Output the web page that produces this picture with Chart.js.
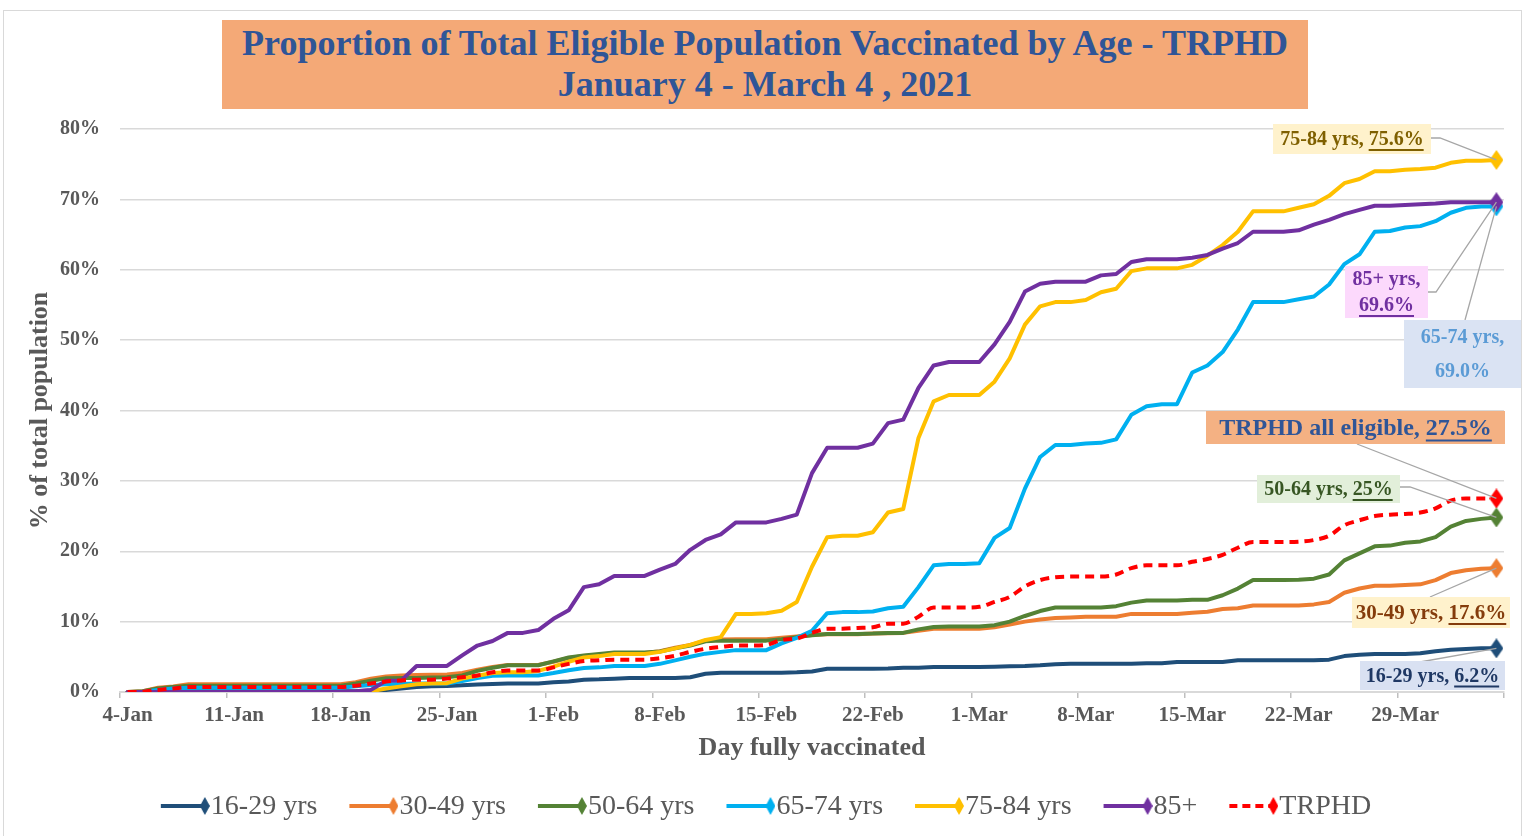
<!DOCTYPE html>
<html>
<head>
<meta charset="utf-8">
<script src="https://cdn.jsdelivr.net/npm/chart.js@4.4.1/dist/chart.umd.min.js"></script>
<style>
  html, body { margin: 0; padding: 0; background: #fff; }
  #wrap { position: relative; width: 1530px; height: 836px; overflow: hidden; }
  #frame { position: absolute; left: 3px; top: 10px; width: 1519px; height: 850px; border: 1px solid #d9d9d9; box-sizing: border-box; }
  #title {
    position: absolute; left: 222px; top: 20px; width: 1086px; height: 89px;
    background: #f4a977; color: #2f5597; text-align: center;
    font: bold 36px "Liberation Serif", "Times New Roman", serif; line-height: 41px;
    padding-top: 3px; box-sizing: border-box; z-index: 2;
  }
  canvas { position: absolute; left: 0; top: 0; z-index: 1; }
</style>
</head>
<body>
<div id="wrap">
  <div id="frame"></div>
  <canvas id="chart" width="1530" height="836"></canvas>
  <div id="title">Proportion of Total Eligible Population Vaccinated by Age - TRPHD<br>January 4 - March 4 , 2021</div>
</div>
<script>
// one label per day, 4-Jan .. 4-Apr
const monthNames = ["Jan", "Feb", "Mar", "Apr"];
const days = [];
for (let i = 0; i < 91; i++) {
  const d = new Date(2021, 0, 4 + i);
  days.push(d.getDate() + "-" + monthNames[d.getMonth()]);
}

const seriesNames = ["16-29 yrs", "30-49 yrs", "50-64 yrs", "65-74 yrs", "75-84 yrs", "85+", "TRPHD"];

// % fully vaccinated
const age16to29 = [0, 0, 0.1, 0.1, 0.1, 0.1, 0.1, 0.1, 0.1, 0.1,
  0.1, 0.1, 0.1, 0.1, 0.1, 0.1, 0.2, 0.3, 0.5, 0.7,
  0.8, 0.85, 0.95, 1.05, 1.15, 1.2, 1.2, 1.2, 1.4, 1.5,
  1.75, 1.8, 1.9, 2.0, 2.0, 2.0, 2.0, 2.1, 2.6, 2.75,
  2.75, 2.75, 2.75, 2.75, 2.8, 2.9, 3.3, 3.3, 3.3, 3.3,
  3.35, 3.45, 3.45, 3.55, 3.55, 3.55, 3.55, 3.6, 3.65, 3.7,
  3.8, 3.95, 4.0, 4.0, 4.0, 4.0, 4.0, 4.1, 4.1, 4.25,
  4.25, 4.25, 4.25, 4.5, 4.5, 4.5, 4.5, 4.5, 4.5, 4.6,
  5.1, 5.3, 5.4, 5.4, 5.4, 5.5, 5.8, 6.0, 6.1, 6.2,
  6.2];
const age30to49 = [0, 0.1, 0.6, 0.8, 1.1, 1.1, 1.1, 1.1, 1.1, 1.1,
  1.1, 1.1, 1.1, 1.1, 1.1, 1.4, 1.9, 2.2, 2.35, 2.4,
  2.45, 2.5, 2.7, 3.15, 3.55, 3.85, 3.85, 3.85, 4.3, 4.85,
  5.1, 5.3, 5.55, 5.55, 5.55, 5.8, 6.3, 6.7, 7.3, 7.45,
  7.5, 7.5, 7.5, 7.7, 7.9, 8.1, 8.2, 8.2, 8.2, 8.3,
  8.35, 8.4, 8.7, 9.0, 9.0, 9.0, 9.0, 9.2, 9.6, 10.0,
  10.3, 10.5, 10.6, 10.7, 10.7, 10.7, 11.1, 11.1, 11.1, 11.1,
  11.25, 11.4, 11.8, 11.9, 12.3, 12.3, 12.3, 12.3, 12.45, 12.8,
  14.1, 14.7, 15.1, 15.1, 15.2, 15.3, 15.9, 16.9, 17.3, 17.5,
  17.6];
const age50to64 = [0, 0.1, 0.5, 0.7, 0.9, 0.9, 0.9, 0.9, 0.9, 0.9,
  0.9, 0.9, 0.9, 0.9, 0.9, 1.2, 1.6, 1.95, 2.0, 2.0,
  2.05, 2.1, 2.35, 3.0, 3.45, 3.8, 3.8, 3.8, 4.35, 4.9,
  5.2, 5.4, 5.6, 5.6, 5.6, 5.75, 6.2, 6.6, 7.2, 7.3,
  7.3, 7.3, 7.3, 7.5, 7.8, 8.05, 8.25, 8.25, 8.25, 8.3,
  8.4, 8.4, 8.9, 9.25, 9.3, 9.3, 9.3, 9.5, 10.0, 10.8,
  11.5, 12.0, 12.0, 12.0, 12.0, 12.2, 12.7, 13.0, 13.0, 13.0,
  13.1, 13.1, 13.75, 14.7, 15.9, 15.9, 15.9, 15.95, 16.1, 16.7,
  18.7, 19.7, 20.7, 20.8, 21.2, 21.4, 22.0, 23.5, 24.3, 24.6,
  24.8];
const age65to74 = [0, 0.05, 0.3, 0.5, 0.6, 0.6, 0.6, 0.6, 0.6, 0.6,
  0.6, 0.6, 0.6, 0.6, 0.6, 0.8, 1.0, 1.1, 1.15, 1.2,
  1.2, 1.2, 1.55, 2.0, 2.3, 2.35, 2.35, 2.35, 2.7, 3.1,
  3.4, 3.5, 3.7, 3.7, 3.7, 4.0, 4.5, 5.0, 5.45, 5.7,
  5.95, 5.95, 5.95, 6.9, 7.7, 8.7, 11.2, 11.35, 11.35, 11.45,
  11.9, 12.1, 14.9, 18.0, 18.2, 18.2, 18.3, 21.9, 23.3, 28.9,
  33.4, 35.1, 35.1, 35.3, 35.4, 35.9, 39.4, 40.6, 40.9, 40.9,
  45.4, 46.4, 48.3, 51.5, 55.4, 55.4, 55.4, 55.8, 56.2, 57.9,
  60.8, 62.2, 65.4, 65.5, 66.0, 66.2, 66.9, 68.1, 68.8, 69.0,
  69.0];
const age75to84 = [0, 0, 0, 0, 0, 0, 0, 0, 0, 0,
  0, 0, 0, 0, 0, 0, 0.1, 0.5, 0.8, 1.1,
  1.2, 1.25, 1.9, 2.3, 2.7, 2.8, 2.8, 3.0, 3.6, 4.3,
  4.9, 5.1, 5.4, 5.4, 5.4, 5.7, 6.2, 6.7, 7.4, 7.8,
  11.1, 11.1, 11.2, 11.55, 12.8, 17.8, 22.0, 22.2, 22.2, 22.7,
  25.5, 26.0, 36.1, 41.3, 42.2, 42.2, 42.2, 44.1, 47.4, 52.2,
  54.8, 55.4, 55.4, 55.7, 56.8, 57.3, 59.8, 60.2, 60.2, 60.2,
  60.7, 62.0, 63.5, 65.4, 68.3, 68.3, 68.3, 68.8, 69.3, 70.5,
  72.3, 72.9, 74.0, 74.0, 74.2, 74.3, 74.5, 75.2, 75.5, 75.5,
  75.6];
const age85plus = [0, 0, 0, 0, 0, 0, 0, 0, 0, 0,
  0, 0, 0, 0, 0.05, 0.1, 0.3, 1.6, 1.65, 3.7,
  3.7, 3.7, 5.2, 6.6, 7.25, 8.4, 8.4, 8.8, 10.4, 11.6,
  14.9, 15.3, 16.5, 16.5, 16.5, 17.4, 18.2, 20.2, 21.6, 22.4,
  24.1, 24.1, 24.1, 24.6, 25.2, 31.1, 34.7, 34.7, 34.7, 35.3,
  38.2, 38.7, 43.2, 46.4, 46.9, 46.9, 46.9, 49.4, 52.6, 56.9,
  58.0, 58.3, 58.3, 58.3, 59.2, 59.4, 61.1, 61.5, 61.5, 61.5,
  61.7, 62.1, 63.0, 63.8, 65.4, 65.4, 65.4, 65.6, 66.4, 67.1,
  67.9, 68.5, 69.1, 69.1, 69.2, 69.3, 69.4, 69.6, 69.6, 69.6,
  69.6];
const trphdAll = [0, 0.05, 0.3, 0.5, 0.7, 0.7, 0.7, 0.7, 0.7, 0.7,
  0.7, 0.7, 0.7, 0.7, 0.7, 0.9, 1.2, 1.5, 1.65, 1.75,
  1.75, 1.9, 2.1, 2.35, 2.8, 3.05, 3.05, 3.05, 3.5, 4.0,
  4.4, 4.5, 4.6, 4.6, 4.6, 4.8, 5.15, 5.7, 6.15, 6.4,
  6.6, 6.6, 6.7, 7.4, 7.6, 8.4, 9.0, 9.0, 9.1, 9.2,
  9.7, 9.7, 10.7, 12.0, 12.0, 12.0, 12.1, 12.8, 13.5, 15.0,
  15.9, 16.3, 16.4, 16.4, 16.4, 16.7, 17.6, 18.0, 18.0, 18.0,
  18.5, 18.9, 19.5, 20.5, 21.3, 21.3, 21.3, 21.35, 21.6, 22.2,
  23.7, 24.4, 25.0, 25.2, 25.3, 25.5, 26.1, 27.2, 27.5, 27.5,
  27.5];

const seriesValues = [age16to29, age30to49, age50to64, age65to74, age75to84, age85plus, trphdAll];
const seriesColors = ["#1f4e79", "#ed7d31", "#548235", "#00b0f0", "#ffc000", "#7030a0", "#ff0000"];

const serif = '"Liberation Serif", "Times New Roman", serif';
const gray = "#595959";

function makeDiamond(color, w, h) {
  const c = document.createElement("canvas");
  c.width = w; c.height = h;
  const g = c.getContext("2d");
  g.fillStyle = color;
  g.beginPath();
  g.moveTo(w / 2, 0); g.lineTo(w, h / 2); g.lineTo(w / 2, h); g.lineTo(0, h / 2);
  g.closePath(); g.fill();
  return c;
}
const diamonds = seriesColors.map(c => makeDiamond(c, 14, 20));
const legendDiamonds = seriesColors.map(c => makeDiamond(c, 10, 18));

// end-of-line callouts: box layout plus text, leader runs to the last point
const callouts = [
  { ds: 4, box: [1273, 124, 158, 30], bg: "#fff2cc", color: "#7f6000", size: 20,
    lines: [[["75-84 yrs, ", false], ["75.6%", true]]], leader: [[1431, 138], [1440, 138]] },
  { ds: 5, box: [1345, 266, 83, 52], bg: "#fcd9fc", color: "#7030a0", size: 20,
    lines: [[["85+ yrs,", false]], [["69.6%", true]]], leader: [[1428, 292], [1436, 292]] },
  { ds: 3, box: [1404, 320, 117, 68], bg: "#dae3f3", color: "#5b9bd5", size: 20,
    lines: [[["65-74 yrs,", false]], [["69.0%", false]]], leader: [[1465, 320]] },
  { ds: 6, box: [1206, 411, 299, 33], bg: "#f4b183", color: "#2f5597", size: 24,
    lines: [[["TRPHD all eligible, ", false], ["27.5%", true]]], leader: [[1357, 444]] },
  { ds: 2, box: [1257, 475, 143, 28], bg: "#e2efda", color: "#375623", size: 20,
    lines: [[["50-64 yrs, ", false], ["25%", true]]], leader: [[1400, 487], [1410, 487]] },
  { ds: 1, box: [1352, 597, 158, 31], bg: "#fff2cc", color: "#843c0c", size: 21,
    lines: [[["30-49 yrs, ", false], ["17.6%", true]]], leader: [[1430, 597]] },
  { ds: 0, box: [1360, 661, 145, 29], bg: "#d9e1f2", color: "#1f3864", size: 20,
    lines: [[["16-29 yrs, ", false], ["6.2%", true]]], leader: [[1420, 662]] }
];

const calloutPlugin = {
  id: "callouts",
  afterDatasetsDraw(chart) {
    const ctx = chart.ctx;
    ctx.save();
    callouts.forEach(c => {
      const meta = chart.getDatasetMeta(c.ds);
      const pt = meta.data[meta.data.length - 1];
      ctx.strokeStyle = "#a6a6a6";
      ctx.lineWidth = 1.3;
      ctx.beginPath();
      ctx.moveTo(c.leader[0][0], c.leader[0][1]);
      c.leader.slice(1).forEach(p => ctx.lineTo(p[0], p[1]));
      ctx.lineTo(pt.x, pt.y);
      ctx.stroke();
    });
    callouts.forEach(c => {
      const [bx, by, bw, bh] = c.box;
      ctx.fillStyle = c.bg;
      ctx.fillRect(bx, by, bw, bh);
      ctx.font = "bold " + c.size + "px " + serif;
      ctx.textBaseline = "middle";
      ctx.textAlign = "left";
      const lh = bh / c.lines.length;
      c.lines.forEach((segs, li) => {
        const total = segs.reduce((a, s) => a + ctx.measureText(s[0]).width, 0);
        let x = bx + bw / 2 - total / 2;
        const y = by + lh * li + lh / 2 + 1;
        segs.forEach(s => {
          const w = ctx.measureText(s[0]).width;
          ctx.fillStyle = c.color;
          ctx.fillText(s[0], x, y);
          if (s[1]) {
            ctx.strokeStyle = c.color;
            ctx.lineWidth = 2;
            ctx.beginPath();
            ctx.moveTo(x, y + c.size * 0.5);
            ctx.lineTo(x + w, y + c.size * 0.5);
            ctx.stroke();
          }
          x += w;
        });
      });
    });
    ctx.restore();
  }
};

const legendPlugin = {
  id: "bottomLegend",
  afterDraw(chart) {
    const ctx = chart.ctx;
    ctx.save();
    ctx.font = "28px " + serif;
    ctx.textBaseline = "middle";
    const iconW = 50, gap = 32, y = 806;
    const widths = seriesNames.map(n => ctx.measureText(n).width);
    const total = widths.reduce((a, w) => a + iconW + w, 0) + gap * (seriesNames.length - 1);
    let x = 766 - total / 2;
    seriesNames.forEach((name, i) => {
      ctx.strokeStyle = seriesColors[i];
      ctx.lineWidth = 4;
      ctx.setLineDash(i === 6 ? [8, 5] : []);
      ctx.beginPath();
      ctx.moveTo(x, y);
      ctx.lineTo(x + 42, y);
      ctx.stroke();
      ctx.setLineDash([]);
      const dm = legendDiamonds[i];
      ctx.drawImage(dm, x + 44 - dm.width / 2, y - dm.height / 2);
      ctx.fillStyle = gray;
      ctx.fillText(name, x + iconW, y + 1);
      x += iconW + widths[i] + gap;
    });
    ctx.restore();
  }
};

new Chart(document.getElementById("chart"), {
  type: "line",
  data: {
    labels: days,
    datasets: seriesValues.map((vals, i) => ({
      label: seriesNames[i],
      data: vals,
      borderColor: seriesColors[i],
      backgroundColor: seriesColors[i],
      borderWidth: 4,
      borderDash: i === 6 ? [9, 6] : [],
      borderJoinStyle: "round",
      borderCapStyle: i === 6 ? "butt" : "round",
      tension: i === 6 ? 0.4 : 0,
      cubicInterpolationMode: i === 6 ? "monotone" : "default",
      pointStyle: diamonds[i],
      pointRadius: ctx => (ctx.dataIndex === vals.length - 1 ? 8 : 0),
      pointHoverRadius: 0,
      order: seriesValues.length - i
    }))
  },
  options: {
    responsive: false,
    animation: false,
    layout: { padding: { left: 0, right: 26, top: 129, bottom: 72 } },
    plugins: {
      legend: { display: false },
      tooltip: { enabled: false }
    },
    scales: {
      x: {
        offset: true,
        grid: {
          offset: true,
          drawOnChartArea: false,
          tickLength: 6,
          lineWidth: 1.5,
          color: ctx => (ctx.type !== "tick" || ctx.index % 7 === 0) ? "#bfbfbf" : "rgba(0,0,0,0)"
        },
        border: { color: "#d9d9d9", width: 2 },
        ticks: {
          autoSkip: false, maxRotation: 0, minRotation: 0, padding: 5,
          color: gray, font: { family: serif, size: 21, weight: "bold" },
          callback: (v, i) => (i % 7 === 0 ? days[i] : "")
        },
        title: {
          display: true, text: "Day fully vaccinated", color: gray,
          font: { family: serif, size: 26, weight: "bold" },
          padding: { top: 0, bottom: 0 }
        },
        afterFit: s => { s.height = 72; }
      },
      y: {
        min: 0, max: 80,
        grid: { color: "#d9d9d9", lineWidth: 1.5, drawTicks: false },
        border: { display: false },
        ticks: {
          stepSize: 10, padding: 20, color: gray,
          font: { family: serif, size: 20, weight: "bold" },
          callback: v => v + "%"
        },
        title: {
          display: true, text: "% of total population", color: gray,
          font: { family: serif, size: 26, weight: "bold" },
          padding: { top: 25, bottom: 0 }
        },
        afterFit: s => { s.width = 120; }
      }
    }
  },
  plugins: [calloutPlugin, legendPlugin]
});
</script>
</body>
</html>
